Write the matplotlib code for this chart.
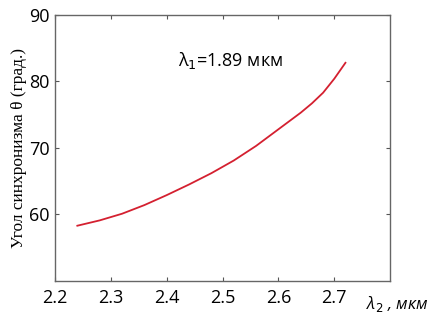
import numpy as np
import matplotlib.pyplot as plt

# values
lam2 = [2.24, 2.28, 2.32, 2.36, 2.40, 2.44, 2.48, 2.52, 2.56, 2.60, 2.64, 2.66, 2.68, 2.70, 2.72]
theta = [58.3, 59.1, 60.1, 61.4, 62.9, 64.5, 66.2, 68.1, 70.3, 72.8, 75.3, 76.7, 78.3, 80.4, 82.8]

xticks = [2.2, 2.3, 2.4, 2.5, 2.6, 2.7]
yticks = [60, 70, 80, 90]

fig = plt.figure(figsize=(4.33, 3.24), dpi=100)
ax = fig.add_axes([0.127, 0.133, 0.774, 0.821])

ax.plot(lam2, theta, color='#d42030', lw=1.3)

ax.set_xlim(2.2, 2.8)
ax.set_ylim(50, 90)
ax.set_xticks(xticks)
ax.set_yticks(yticks)
ax.set_xticklabels(["%.1f" % v for v in xticks], family='Open Sans', fontsize=13)
ax.set_yticklabels([str(v) for v in yticks], family='Open Sans', fontsize=13)
ax.tick_params(axis='x', direction='in', top=True, length=3, color='#555555', pad=6)
ax.tick_params(axis='y', direction='in', right=True, length=3, color='#555555', pad=4)
for s in ax.spines.values():
    s.set_color('#666666')
    s.set_linewidth(1.0)

ax.set_ylabel("Угол синхронизма θ (град.)", family='Liberation Serif', fontsize=12.5, labelpad=1)
ax.text(2.515, 83.2, "λ$_1$=1.89 мкм", family='Open Sans', fontsize=13, ha='center', va='center')
fig.text(0.99, 0.03, "λ$_2$ , мкм", family='Open Sans', style='italic', fontsize=12, ha='right', va='bottom')

plt.savefig("out.png", dpi=100)
